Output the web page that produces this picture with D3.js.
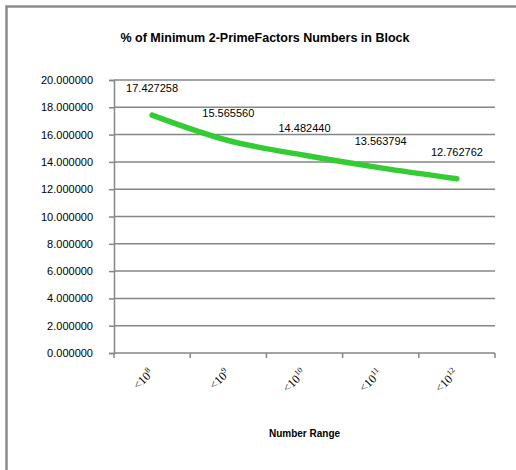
<!DOCTYPE html>
<html>
<head>
<meta charset="utf-8">
<script src="https://cdn.jsdelivr.net/npm/d3@7"></script>
<style>
  html, body { margin: 0; padding: 0; background: #fff; overflow: hidden; }
  svg { display: block; font-family: "Liberation Sans", Arial, sans-serif; }
</style>
</head>
<body>
<div id="chart"></div>
<script>
// ---- data ----
var categories = ["8", "9", "10", "11", "12"];          // exponents: "<10^n"
var values = [17.427258, 15.565560, 14.482440, 13.563794, 12.762762];
var yTicks = [0, 2, 4, 6, 8, 10, 12, 14, 16, 18, 20];
var titleText = "% of Minimum 2-PrimeFactors Numbers in Block";
var xTitleText = "Number Range";

var W = 516, H = 470;
var svg = d3.select("#chart").append("svg").attr("width", W).attr("height", H);

// outer chart border (runs off the right/bottom edges)
svg.append("rect")
  .attr("x", 6.5).attr("y", 6.5).attr("width", W + 40).attr("height", H + 40)
  .attr("fill", "#fff").attr("stroke", "#8c8c8c").attr("stroke-width", 2.5);

var plot = { left: 114, right: 495, top: 80, bottom: 353 };

var x = d3.scaleBand().domain(categories).range([plot.left, plot.right]);
var y = d3.scaleLinear().domain([0, 20]).range([plot.bottom, plot.top]);

var GRID = "#868686";

// horizontal gridlines
svg.append("g").selectAll("line").data(yTicks.filter(function (d) { return d > 0; }))
  .enter().append("line")
  .attr("x1", plot.left).attr("x2", plot.right)
  .attr("y1", function (d) { return y(d); }).attr("y2", function (d) { return y(d); })
  .attr("stroke", GRID).attr("stroke-width", 1.5);

// y axis
var yAx = svg.append("g").attr("transform", "translate(" + plot.left + ",0)")
  .call(d3.axisLeft(y).tickValues(yTicks).tickSize(5).tickPadding(16)
    .tickFormat(function (d) { return d.toFixed(6); }));
yAx.select(".domain").attr("stroke", GRID).attr("stroke-width", 1.5);
yAx.selectAll(".tick line").attr("stroke", GRID).attr("stroke-width", 1.5);
yAx.selectAll(".tick text").attr("fill", "#000")
  .attr("font-family", "Liberation Sans, Arial, sans-serif").attr("font-size", 11);

// x axis (ticks at band boundaries)
var xAx = svg.append("g").attr("transform", "translate(0," + plot.bottom + ")");
xAx.append("line").attr("x1", plot.left).attr("x2", plot.right)
  .attr("stroke", GRID).attr("stroke-width", 1.5);
var bounds = categories.map(function (c) { return x(c); }).concat([plot.right]);
xAx.selectAll("line.tk").data(bounds).enter().append("line").attr("class", "tk")
  .attr("x1", function (d) { return d; }).attr("x2", function (d) { return d; })
  .attr("y1", 0).attr("y2", 5)
  .attr("stroke", GRID).attr("stroke-width", 1.5);

// x tick labels, rotated -45°
xAx.selectAll("text.lab").data(categories).enter().append("text").attr("class", "lab")
  .attr("transform", function (d) {
    return "translate(" + (x(d) + x.bandwidth() / 2 + 2) + ",21) rotate(-45)";
  })
  .attr("text-anchor", "end")
  .attr("font-family", "Liberation Serif, serif").attr("font-size", 12).attr("fill", "#000")
  .each(function (d) {
    var t = d3.select(this);
    t.append("tspan").text("<10");
    t.append("tspan").attr("dy", -5).attr("font-size", 8).text(d);
  });

// line
var line = d3.line()
  .x(function (d, i) { return x(categories[i]) + x.bandwidth() / 2; })
  .y(function (d) { return y(d); })
  .curve(d3.curveCatmullRom.alpha(0.5));
svg.append("path").datum(values)
  .attr("fill", "none").attr("stroke", "#33cc33").attr("stroke-width", 5.5)
  .attr("stroke-linecap", "round").attr("stroke-linejoin", "round")
  .attr("d", line);

// data labels
svg.append("g").selectAll("text").data(values).enter().append("text")
  .attr("x", function (d, i) { return x(categories[i]) + x.bandwidth() / 2; })
  .attr("y", function (d) { return y(d) - 27; })
  .attr("dy", "0.35em").attr("text-anchor", "middle")
  .attr("font-size", 11).attr("fill", "#000")
  .text(function (d) { return d.toFixed(6); });

// titles
svg.append("text").attr("x", 265).attr("y", 42).attr("text-anchor", "middle")
  .attr("font-size", 12.5).attr("font-weight", "bold").attr("fill", "#000")
  .text(titleText);
svg.append("text").attr("x", (plot.left + plot.right) / 2).attr("y", 437).attr("text-anchor", "middle")
  .attr("font-size", 10).attr("font-weight", "bold").attr("fill", "#000")
  .text(xTitleText);
</script>
</body>
</html>
